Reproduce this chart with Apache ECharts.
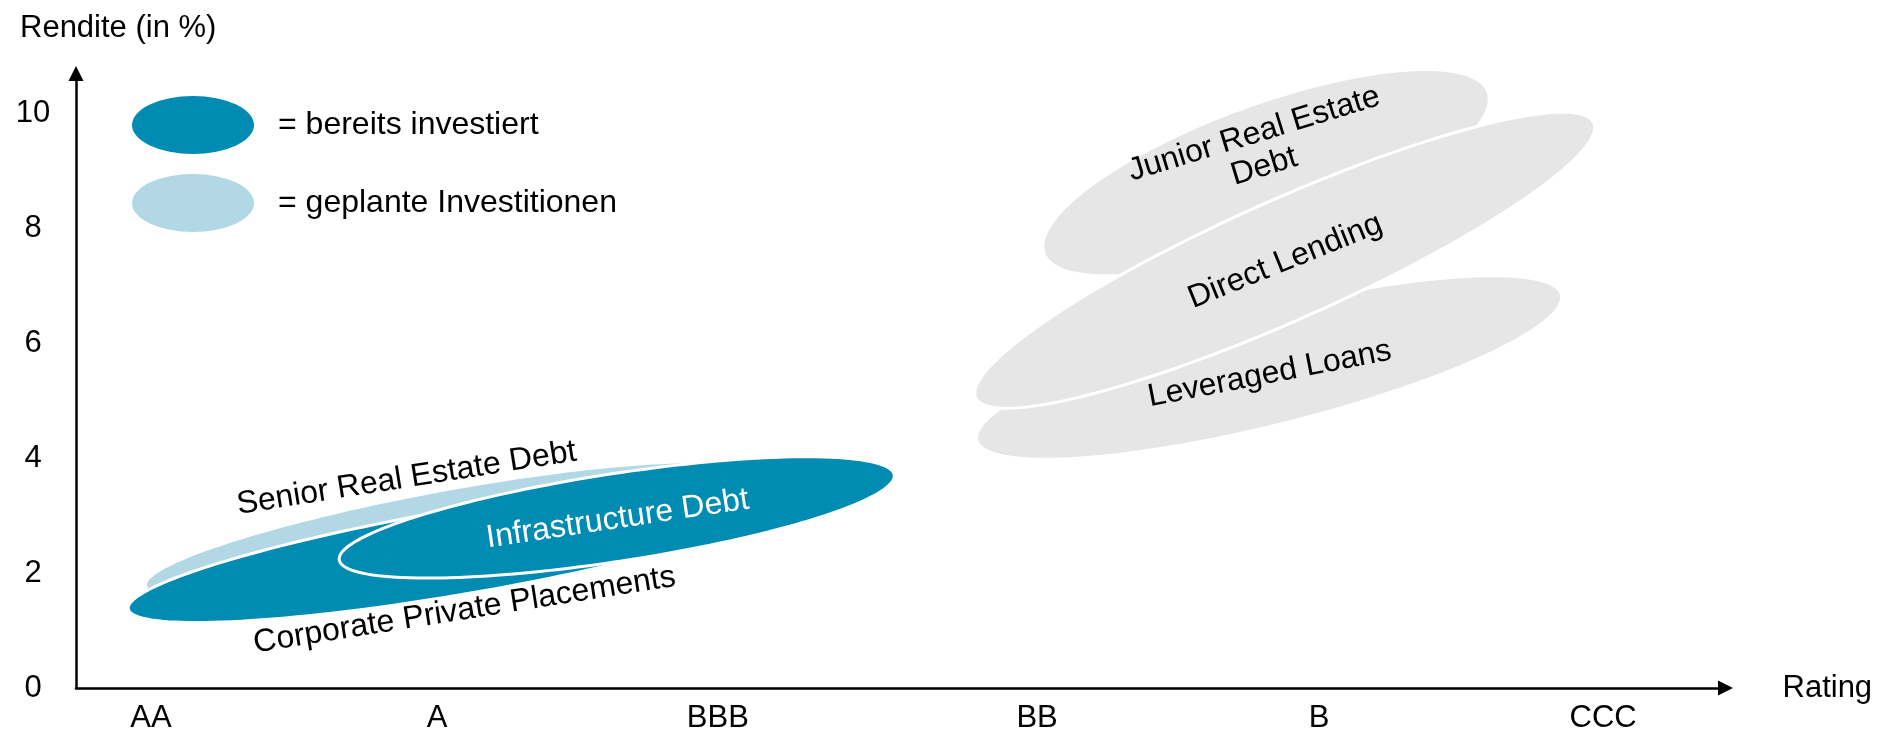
<!DOCTYPE html>
<html>
<head>
<meta charset="utf-8">
<script src="https://cdn.jsdelivr.net/npm/echarts@6/dist/echarts.min.js"></script>
<style>
html,body{margin:0;padding:0;background:#fff;}
#chart{width:1880px;height:734px;}
</style>
</head>
<body>
<div id="chart"></div>
<script>
// Rating axis: labels and their positions (rating units)
const ratingLabels = ['AA', 'A', 'BBB', 'BB', 'B', 'CCC'];
const ratingPos = [0, 1.007, 1.996, 3.12, 4.113, 5.113];
const yieldTicks = [0, 2, 4, 6, 8, 10];

// Asset classes (ellipses), all in data units (rating, Rendite %)
const assetNames = ['Junior Real Estate\nDebt', 'Leveraged Loans', 'Direct Lending',
                    'Senior Real Estate Debt', 'Corporate Private Placements', 'Infrastructure Debt'];
const assetStatus = ['sonstige', 'sonstige', 'sonstige', 'geplant', 'investiert', 'investiert'];
const centerRating = [3.926, 3.937, 3.992, 1.039, 1.100, 1.640];
const centerYield  = [8.962, 5.574, 7.440, 2.748, 2.380, 2.967];
const tipRating    = [4.708, 4.966, 5.080, 2.097, 2.280, 2.617];
const tipYield     = [10.367, 6.840, 9.832, 3.717, 3.385, 3.706];
const halfSpreadYield = [1.188, 1.002, 1.043, 0.689, 0.740, 0.762];
const labelRating  = [3.902, 3.939, 3.994, 0.900, 1.104, 1.643];
const labelYield   = [9.35, 5.459, 7.419, 3.645, 1.351, 2.936];
const labelAngle   = [17, 11, 22, 9, 9, 8.5];

const seriesDefs = [
  {key: 'sonstige', name: 'Sonstige', color: '#E6E6E6', text: '#000'},
  {key: 'geplant', name: 'geplante Investitionen', color: '#B2D8E6', text: '#000'},
  {key: 'investiert', name: 'bereits investiert', color: '#008BB3', text: '#fff'}
];

const FONT = '"Liberation Sans", Arial, sans-serif';
const offsets = [];

function renderEllipse(params, api) {
  const c = api.coord([api.value(0), api.value(1)]);
  const e = api.coord([api.value(2), api.value(3)]);
  const b = api.size([0, api.value(4)])[1];
  const dx = e[0] - c[0], dy = e[1] - c[1];
  const a = Math.sqrt(dx * dx + dy * dy);
  const ux = dx / a, uy = dy / a;
  const nx = -uy, ny = ux;
  const pts = [];
  const N = 160;
  for (let i = 0; i < N; i++) {
    const t = 2 * Math.PI * i / N;
    const ca = a * Math.cos(t), sb = b * Math.sin(t);
    pts.push([c[0] + ca * ux + sb * nx, c[1] + ca * uy + sb * ny]);
  }
  const lp = api.coord([api.value(5), api.value(6)]);
  // is the label inside its own ellipse?
  const px = lp[0] - c[0], py = lp[1] - c[1];
  const pu = (px * ux + py * uy) / a, pn = (px * nx + py * ny) / b;
  const inside = pu * pu + pn * pn < 1;
  const def = seriesDefs[params.seriesIndex];
  return {
    type: 'group',
    children: [
      {type: 'polygon', shape: {points: pts},
       style: {fill: def.color, stroke: '#fff', lineWidth: 3}},
      {type: 'text', x: lp[0], y: lp[1], rotation: api.value(7) * Math.PI / 180,
       style: {text: assetNames[params.dataIndex + offsets[params.seriesIndex]],
               fill: inside ? def.text : '#000',
               font: '32px ' + FONT, align: 'center', verticalAlign: 'middle', lineHeight: 34}}
    ]
  };
}

const series = seriesDefs.map(function (def, si) {
  const data = [];
  offsets[si] = assetStatus.indexOf(def.key);
  assetStatus.forEach(function (s, i) {
    if (s === def.key) {
      data.push({name: assetNames[i], value: [centerRating[i], centerYield[i], tipRating[i], tipYield[i],
        halfSpreadYield[i], labelRating[i], labelYield[i], labelAngle[i]]});
    }
  });
  return {
    type: 'custom', name: def.name, renderItem: renderEllipse, data: data,
    itemStyle: {color: def.color}, silent: true,
    encode: {x: 0, y: 1}
  };
});

const chart = echarts.init(document.getElementById('chart'), null, {renderer: 'canvas'});
chart.setOption({
  animation: false,
  backgroundColor: '#fff',
  title: {text: 'Rendite (in %)', left: 15, top: 8,
    textStyle: {fontSize: 31, fontWeight: 'normal', color: '#000', fontFamily: FONT}},
  legend: {
    data: ['bereits investiert', 'geplante Investitionen'],
    orient: 'vertical', left: 127, top: 91,
    itemWidth: 122, itemHeight: 58, itemGap: 20,
    icon: 'path://M0,29 A61,29 0 1,1 122,29 A61,29 0 1,1 0,29 Z',
    itemStyle: {borderWidth: 0},
    formatter: '= {name}',
    selectedMode: false,
    textStyle: {fontSize: 32, color: '#000', fontFamily: FONT, padding: [0, 0, 0, 19]}
  },
  grid: {left: 76, right: 154.5, top: 73.5, bottom: 46, containLabel: false},
  xAxis: {
    type: 'value', min: -0.264, max: 5.544,
    name: 'Rating', nameLocation: 'end', nameGap: 57,
    nameTextStyle: {fontSize: 31, color: '#000', fontFamily: FONT},
    axisLine: {show: true, onZero: false, symbol: ['none', 'triangle'], symbolSize: [15, 15],
      lineStyle: {color: '#000', width: 2.5}},
    axisTick: {show: false}, splitLine: {show: false},
    axisLabel: {customValues: ratingPos, margin: 15, fontSize: 31, color: '#000', fontFamily: FONT,
      formatter: function (v) {
        let best = 0;
        for (let i = 1; i < ratingPos.length; i++) if (Math.abs(ratingPos[i] - v) < Math.abs(ratingPos[best] - v)) best = i;
        return ratingLabels[best];
      }}
  },
  yAxis: {
    type: 'value', min: 0, max: 10.687,
    axisLine: {show: true, onZero: false, symbol: ['none', 'triangle'], symbolSize: [15, 15],
      lineStyle: {color: '#000', width: 2.5}},
    axisTick: {show: false}, splitLine: {show: false},
    axisLabel: {customValues: yieldTicks, margin: 43, align: 'center', fontSize: 31, color: '#000', fontFamily: FONT}
  },
  series: series
});
</script>
</body>
</html>
